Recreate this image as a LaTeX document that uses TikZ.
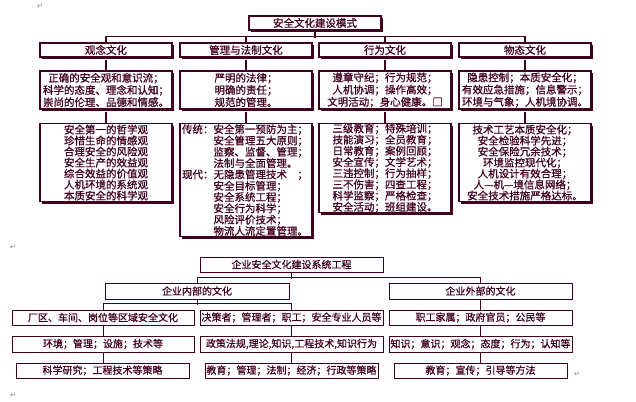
\documentclass[tikz,border=0pt]{standalone}
\usepackage{fontspec}
\setmainfont{Noto Sans CJK SC}[FakeBold=0.8]
\newfontfamily\symfont{DejaVu Sans}
\usetikzlibrary{shadows}
\definecolor{mr}{RGB}{64,0,32}
\begin{document}
\begin{tikzpicture}[x=1pt,y=-1pt,
  box/.style={draw=mr, line width=1.1pt, fill=white, inner sep=0pt, align=center, text=mr,
    font=\fontsize{10.5pt}{11.3pt}\selectfont},
  sbox/.style={box, drop shadow={shadow xshift=2pt, shadow yshift=-2pt, fill=mr, opacity=1}},
  bbox/.style={box, line width=1pt, font=\fontsize{10pt}{11pt}\selectfont},
  ln/.style={draw=mr, line width=1.1pt},
  ret/.style={text=gray, inner sep=0pt, font=\symfont\fontsize{7pt}{7pt}\selectfont}]
\useasboundingbox (0,0) rectangle (636,401);

% ---------- top: 安全文化建设模式 ----------
\node[sbox, minimum width=132pt, minimum height=14pt] (t) at (315,23) {安全文化建设模式};

\node[sbox, minimum width=132pt, minimum height=14pt] (a1) at (106,50) {观念文化};
\node[sbox, minimum width=132pt, minimum height=14pt] (a2) at (246,50) {管理与法制文化};
\node[sbox, minimum width=132pt, minimum height=14pt] (a3) at (385,50) {行为文化};
\node[sbox, minimum width=132pt, minimum height=14pt] (a4) at (525,50) {物态文化};

\node[sbox, minimum width=132pt, minimum height=38pt, font=\fontsize{10.5pt}{12.2pt}\selectfont] (b1) at (106,90)
  {正确的安全观和意识流；\\科学的态度、理念和认知；\\崇尚的伦理、品德和情感。};
\node[sbox, minimum width=132pt, minimum height=38pt, font=\fontsize{10.5pt}{12.2pt}\selectfont] (b2) at (246,90)
  {严明的法律；\\明确的责任；\\规范的管理。};
\node[sbox, minimum width=132pt, minimum height=38pt, font=\fontsize{10.5pt}{12.2pt}\selectfont] (b3) at (385,90)
  {遵章守纪；行为规范；\\人机协调；操作高效；\\文明活动；身心健康。□};
\node[sbox, minimum width=132pt, minimum height=38pt, font=\fontsize{10.5pt}{12.2pt}\selectfont] (b4) at (525,90)
  {隐患控制；本质安全化；\\有效应急措施；信息警示；\\环境与气象；人机境协调。};

\node[sbox, anchor=north, minimum width=132pt, minimum height=78pt, font=\fontsize{10.5pt}{11pt}\selectfont] (c1) at (106,123)
  {安全第一的哲学观\\珍惜生命的情感观\\合理安全的风险观\\安全生产的效益观\\综合效益的价值观\\人机环境的系统观\\本质安全的科学观};
\node[sbox, anchor=north, minimum width=132pt, minimum height=113pt, align=left, text width=128pt, inner xsep=2pt] (c2) at (246,123)
  {传统：安全第一预防为主；\\\hspace*{3em}安全管理五大原则；\\\hspace*{3em}监察、监督、管理；\\\hspace*{3em}法制与全面管理。\\现代：无隐患管理技术\hspace*{1em}；\\\hspace*{3em}安全目标管理；\\\hspace*{3em}安全系统工程；\\\hspace*{3em}安全行为科学；\\\hspace*{3em}风险评价技术；\\\hspace*{3em}物流人流定置管理。};
\node[sbox, anchor=north, minimum width=132pt, minimum height=89pt, font=\fontsize{10.5pt}{11.2pt}\selectfont] (c3) at (385,123)
  {三级教育；特殊培训；\\技能演习；全员教育；\\日常教育；案例回顾；\\安全宣传；文学艺术；\\三违控制；行为抽样；\\三不伤害；四查工程；\\科学监察；严格检查；\\安全活动；班组建设。};
\node[sbox, anchor=north, minimum width=132pt, minimum height=78pt, font=\fontsize{10.5pt}{11pt}\selectfont] (c4) at (525,123)
  {技术工艺本质安全化；\\安全检验科学先进；\\安全保险冗余技术；\\环境监控现代化；\\人机设计有效合理；\\人—机—境信息网络；\\安全技术措施严格达标。};

\draw[ln] (t.south) -- ++(0,7);
\draw[ln] (a1.north) -- ++(0,-6) -| (a4.north);
\draw[ln] (a2.north) -- ++(0,-6);
\draw[ln] (a3.north) -- ++(0,-6);
\foreach \i in {1,2,3,4}{
  \draw[ln] ([yshift=-2pt]a\i.south) -- (b\i.north);
  \draw[ln] ([yshift=-2pt]b\i.south) -- (c\i.north);
}

% ---------- bottom: 企业安全文化建设系统工程 ----------
\node[bbox, minimum width=183pt, minimum height=15pt] (s) at (291.5,264.5) {企业安全文化建设系统工程};
\node[bbox, minimum width=184pt, minimum height=16pt] (in) at (197,291) {企业内部的文化};
\node[bbox, minimum width=183pt, minimum height=16pt] (out) at (480.5,291) {企业外部的文化};

\node[bbox, minimum width=182pt, minimum height=15pt] (l1) at (103,317.5) {厂区、车间、岗位等区域安全文化};
\node[bbox, minimum width=183pt, minimum height=15pt] (m1) at (291.5,317.5) {决策者；管理者；职工；安全专业人员等};
\node[bbox, minimum width=183pt, minimum height=15pt] (r1) at (480.5,317.5) {职工家属；政府官员；公民等};

\node[bbox, minimum width=182pt, minimum height=16pt] (l2) at (103,344) {环境；管理；设施；技术等};
\node[bbox, minimum width=183pt, minimum height=16pt] (m2) at (291.5,344) {政策法规,理论,知识,工程技术,知识行为};
\node[bbox, minimum width=183pt, minimum height=16pt] (r2) at (480.5,344) {知识；意识；观念；态度；行为；认知等};

\node[bbox, minimum width=173pt, minimum height=15pt] (l3) at (102.5,370.5) {科学研究；工程技术等策略};
\node[bbox, minimum width=173pt, minimum height=15pt] (m3) at (291.5,370.5) {教育；管理；法制；经济；行政等策略};
\node[bbox, minimum width=173pt, minimum height=15pt] (r3) at (480.5,370.5) {教育；宣传；引导等方法};

\draw[ln, line width=1pt] (s.south) -- ++(0,6);
\draw[ln, line width=1pt] (in.north) -- ++(0,-5) -| (out.north);
\draw[ln, line width=1pt] (in.south) -- ++(0,5);
\draw[ln, line width=1pt] (l1.north) -- ++(0,-6) -| (m1.north);
\draw[ln, line width=1pt] (out.south) -- (r1.north);
\draw[ln, line width=1pt] (l1.south) -- (l2.north);
\draw[ln, line width=1pt] (m1.south) -- (m2.north);
\draw[ln, line width=1pt] (r1.south) -- (r2.north);
\draw[ln, line width=1pt] (l2.south) -- (l2.south |- l3.north);
\draw[ln, line width=1pt] (m2.south) -- (m3.north);
\draw[ln, line width=1pt] (r2.south) -- (r3.north);

% paragraph marks
\node[ret] (p1) at (40,6) {↵};
\node[ret] (p2) at (13,247) {↵};
\node[ret] (p3) at (13,395) {↵};
\node[ret] (p4) at (577,374) {↵};
\end{tikzpicture}
\end{document}
